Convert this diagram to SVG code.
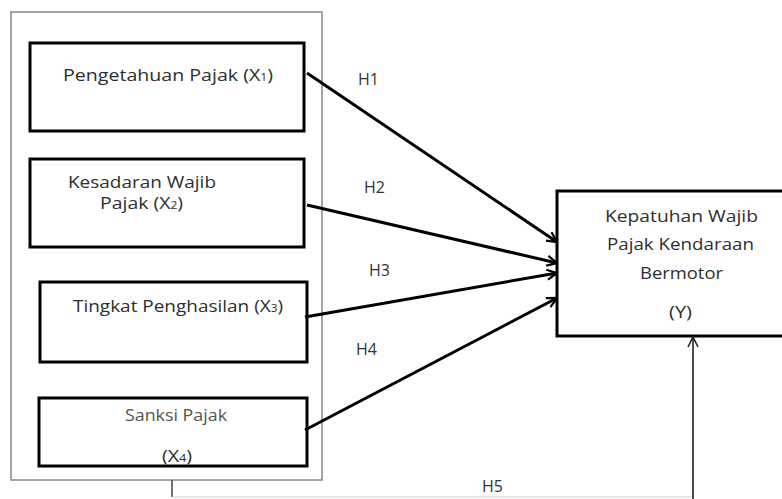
<svg xmlns="http://www.w3.org/2000/svg" width="782" height="499" viewBox="0 0 782 499">
<defs>
<marker id="arr" viewBox="0 0 12 12" refX="11" refY="6" markerWidth="12" markerHeight="12" markerUnits="userSpaceOnUse" orient="auto">
<path d="M1,1 L11,6 L1,11" fill="none" stroke="#000" stroke-width="2.2"/>
</marker>
<marker id="arr2" viewBox="0 0 12 12" refX="11" refY="6" markerWidth="12" markerHeight="12" markerUnits="userSpaceOnUse" orient="auto">
<path d="M1,1 L11,6 L1,11" fill="none" stroke="#222" stroke-width="1.6"/>
</marker>
</defs>
<style>
.box{fill:#fff;stroke:#000;stroke-width:3}
.outer{fill:#fff;stroke:#888;stroke-width:1.5}
.t{font-family:"Open Sans","Liberation Sans",sans-serif;font-size:17px;fill:#2e2e2e}
.s{font-size:10.5px}
.lbl{font-family:"Open Sans","Liberation Sans",sans-serif;font-size:16px;fill:#333}
.conn{stroke:#000;stroke-width:3;fill:none}
</style>
<rect width="782" height="499" fill="#fff"/>
<g id="group-x">
<rect class="outer" x="11" y="12" width="311" height="468"/>
</g>
<g id="x1">
<rect class="box" x="30" y="43" width="274" height="88"/>
<text class="t" x="63" y="81" textLength="210" lengthAdjust="spacingAndGlyphs">Pengetahuan Pajak (X<tspan class="s">1</tspan>)</text>
</g>
<g id="x2">
<rect class="box" x="30" y="159" width="274" height="88"/>
<text class="t" x="68" y="188" textLength="148" lengthAdjust="spacingAndGlyphs">Kesadaran Wajib</text>
<text class="t" x="100" y="209" textLength="83" lengthAdjust="spacingAndGlyphs">Pajak (X<tspan class="s">2</tspan>)</text>
</g>
<g id="x3">
<rect class="box" x="40" y="282" width="267" height="80"/>
<text class="t" x="73" y="312" textLength="210" lengthAdjust="spacingAndGlyphs">Tingkat Penghasilan (X<tspan class="s">3</tspan>)</text>
</g>
<g id="x4">
<rect class="box" x="39" y="398" width="268" height="68"/>
<text class="t" x="125" y="421" textLength="102" lengthAdjust="spacingAndGlyphs" style="fill:#555">Sanksi Pajak</text>
<text class="t" x="162" y="462" textLength="30" lengthAdjust="spacingAndGlyphs">(X<tspan class="s">4</tspan>)</text>
</g>
<g id="y">
<rect class="box" x="557" y="191" width="240" height="145"/>
<text class="t" x="605" y="222" textLength="153" lengthAdjust="spacingAndGlyphs">Kepatuhan Wajib</text>
<text class="t" x="607" y="250" textLength="147" lengthAdjust="spacingAndGlyphs">Pajak Kendaraan</text>
<text class="t" x="640" y="279" textLength="83" lengthAdjust="spacingAndGlyphs">Bermotor</text>
<text class="t" x="669" y="318" textLength="23" lengthAdjust="spacingAndGlyphs">(Y)</text>
</g>
<g id="connectors">
<line class="conn" x1="307" y1="73" x2="557" y2="242" marker-end="url(#arr)"/>
<line class="conn" x1="307" y1="205" x2="557" y2="263" marker-end="url(#arr)"/>
<line class="conn" x1="305" y1="317" x2="557" y2="273" marker-end="url(#arr)"/>
<line class="conn" x1="305" y1="430" x2="557" y2="298" marker-end="url(#arr)"/>
<polyline points="172,480 172,497" fill="none" stroke="#444" stroke-width="1.5"/>
<polyline points="172,497 693,497" fill="none" stroke="#ccc" stroke-width="1"/>
<line x1="693" y1="499" x2="693" y2="337" stroke="#222" stroke-width="1.6" marker-end="url(#arr2)"/>
<text class="lbl" x="358" y="85">H1</text>
<text class="lbl" x="364" y="193">H2</text>
<text class="lbl" x="369" y="276">H3</text>
<text class="lbl" x="356" y="355">H4</text>
<text class="lbl" x="482" y="492">H5</text>
</g>
</svg>
